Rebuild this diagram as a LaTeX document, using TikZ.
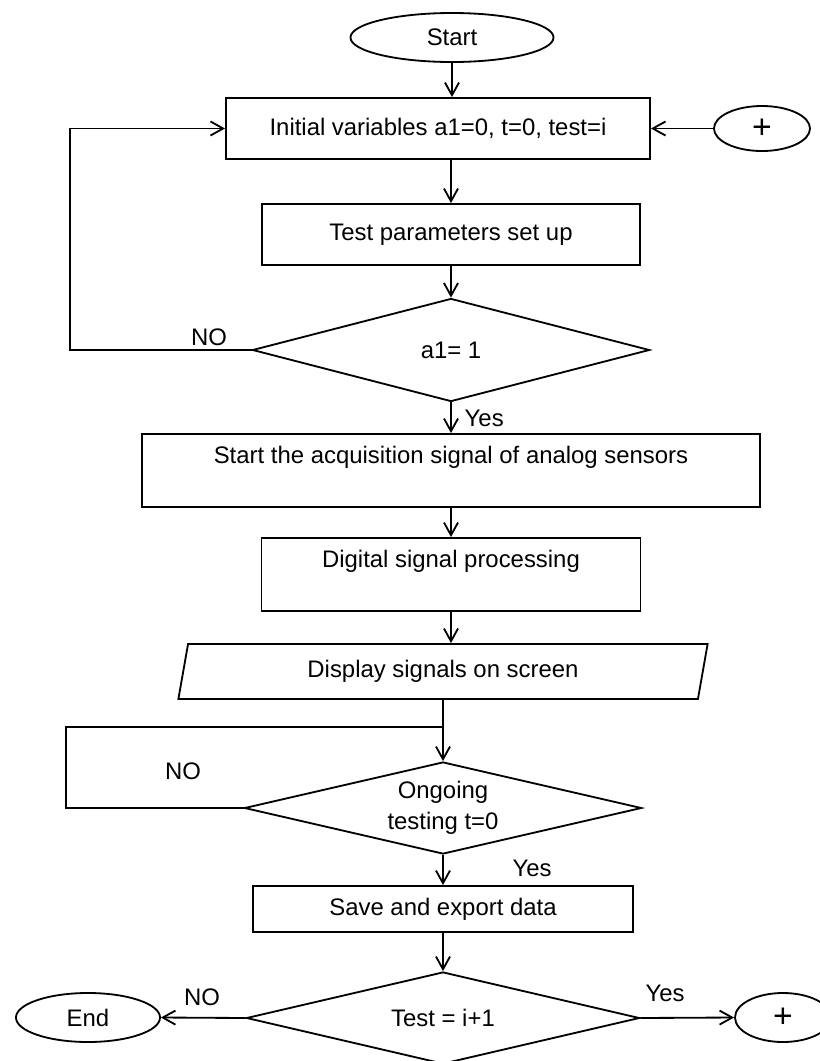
\documentclass[tikz,border=0pt]{standalone}
\usepackage{fontspec}
\setmainfont{Liberation Sans}
\usetikzlibrary{shapes.geometric,arrows.meta}
\tikzset{
  base/.style={draw, line width=1.3pt, inner sep=0pt, align=center,
    font=\fontsize{17}{22}\selectfont},
  term/.style={base, ellipse},
  procbox/.style={base, rectangle},
  decision/.style={base, diamond, aspect=4},
  iobox/.style={base, trapezium, trapezium left angle=77,
    trapezium right angle=103, trapezium stretches=true},
  flow/.style={line width=1.3pt, -{Straight Barb[length=9pt,width=10pt]}},
  wire/.style={line width=1.3pt},
  lab/.style={font=\fontsize{17}{20}\selectfont, inner sep=1pt}
}
\begin{document}
\begin{tikzpicture}[x=0.025cm, y=-0.025cm]
  \useasboundingbox (0,0) rectangle (820,1061);

  % Upper column
  \node[term, minimum width=5.075cm, minimum height=1.225cm] (start) at (452,37.5) {Start};
  \node[procbox, minimum width=10.6cm, minimum height=1.525cm] (init) at (438,128.5)
    {Initial variables  a1=0, t=0, test=i};
  \node[term, minimum width=2.4cm, minimum height=1.125cm, font=\fontsize{24}{26}\selectfont]
    (plusT) at (762,128.5) {+};
  \node[procbox, minimum width=9.45cm, minimum height=1.525cm] (params) at (451,234.5)
    {Test parameters  set up};
  \node[decision, minimum width=9.925cm, minimum height=2.575cm] (chkA) at (451,350) {a1= 1};
  \node[procbox, minimum width=15.45cm, minimum height=1.825cm] (acq) at (451,470.5)
    {Start the acquisition signal of analog sensors\\ ~};
  \node[procbox, minimum width=9.475cm, minimum height=1.825cm] (dsp) at (451,574.5)
    {Digital  signal processing\\ ~};

  % Lower column
  \node[iobox, minimum width=13.25cm, minimum height=1.375cm] (disp) at (443,671.5)
    {Display signals on screen};
  \node[decision, minimum width=9.925cm, minimum height=2.3cm] (chkB) at (443,808)
    {Ongoing\\testing t=0};
  \node[procbox, minimum width=9.5cm, minimum height=1.15cm] (save) at (443,909)
    {Save and  export data};
  \node[decision, minimum width=9.825cm, minimum height=2.3cm] (chkC) at (443,1018)
    {Test = i+1};
  \node[term, minimum width=3.6cm, minimum height=1.225cm] (stop) at (88,1017.5) {End};
  \node[term, minimum width=2.4cm, minimum height=1.225cm, font=\fontsize{24}{26}\selectfont]
    (plusB) at (783,1017.5) {+};

  % Loop corners
  \coordinate (loopA) at (70,350);
  \coordinate (loopB) at (66,727);
  \coordinate (merge) at (443,727);

  % Main flow
  \draw[flow] (start.south) -- (start.south |- init.north);
  \draw[flow] (plusT.west) -- (init.east);
  \draw[flow] (params.north |- init.south) -- (params.north);
  \draw[flow] (params.south) -- (chkA.north);
  \draw[flow] (chkA.south) -- (acq.north);
  \draw[flow] (acq.south) -- (dsp.north);
  \draw[flow] (dsp.south) -- (dsp.south |- disp.north);
  \draw[wire] (disp.south) -- (merge);
  \draw[flow] (merge) -- (chkB.north);
  \draw[flow] (chkB.south) -- (save.north);
  \draw[flow] (save.south) -- (chkC.north);
  \draw[flow] (chkC.west) -- (stop.east);
  \draw[flow] (chkC.east) -- (plusB.west);

  % Loops back
  \draw[flow] (chkA.west) -- (loopA) |- (init.west);
  \draw[wire] (chkB.west) -| (loopB) -- (merge);

  % Branch labels
  \node[lab] (noA) at (209,337) {NO};
  \node[lab, anchor=west] (yesA) at (463,418) {Yes};
  \node[lab] (noB) at (183,771) {NO};
  \node[lab] (yesB) at (532,868) {Yes};
  \node[lab] (noC) at (202,997) {NO};
  \node[lab] (yesC) at (665,993) {Yes};
\end{tikzpicture}
\end{document}
